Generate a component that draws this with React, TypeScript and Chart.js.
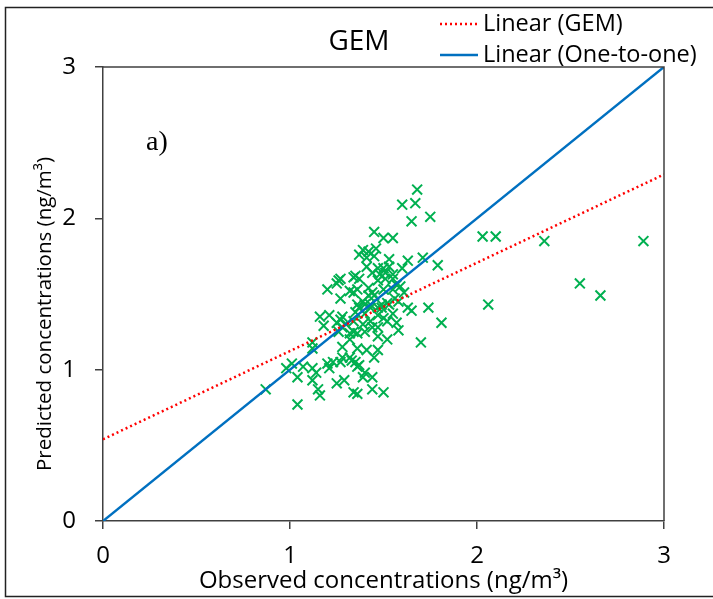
import React, { useEffect, useRef } from "react";
import { Chart, registerables } from "chart.js";

Chart.register(...registerables);

// ---- data ----
const observed = [
  1.68, 1.67, 1.60, 1.65, 1.75, 1.45, 1.50, 1.55, 1.39, 1.42, 1.46, 1.45, 1.37, 1.41, 1.53, 1.63, 1.71, 1.79,
  1.41, 1.47, 1.50, 1.53, 1.60, 1.35, 1.34, 1.37, 1.44, 1.48, 1.51, 1.55, 1.26, 1.20, 1.25, 1.27, 1.32, 1.36,
  1.42, 1.47, 1.51, 1.55, 1.57, 1.27, 1.42, 1.44, 1.50, 1.55, 1.59, 1.61, 1.36, 1.43, 1.49, 1.58, 1.39, 1.52,
  1.56, 1.34, 1.45, 1.63, 1.65, 1.74, 1.16, 1.21, 1.18, 1.25, 1.27, 1.28, 1.28, 1.30, 1.26, 1.32, 1.34, 1.36,
  1.37, 1.40, 1.43, 1.47, 1.49, 1.53, 1.35, 1.40, 1.47, 1.50, 1.55, 1.43, 1.47, 1.40, 1.44, 1.52, 1.57, 1.58,
  1.34, 1.39, 1.52, 1.47, 1.70, 1.81, 1.32, 1.36, 1.41, 1.47, 1.12, 1.12, 1.28, 1.28, 1.32, 1.35, 1.37, 1.45,
  1.33, 1.36, 1.01, 0.98, 1.07, 1.12, 1.14, 1.20, 1.21, 1.23, 1.27, 1.40, 1.44, 1.39, 1.04, 1.12, 1.25, 1.29,
  0.87, 1.15, 1.16, 1.34, 1.36, 1.44, 1.50, 1.04, 2.03, 2.10, 2.36, 2.89, 2.55, 2.66, 2.06,
];
const predicted = [
  2.19, 2.10, 2.09, 1.98, 2.01, 1.91, 1.87, 1.87, 1.79, 1.78, 1.80, 1.75, 1.76, 1.74, 1.73, 1.72, 1.74, 1.69,
  1.68, 1.67, 1.67, 1.68, 1.67, 1.62, 1.61, 1.60, 1.64, 1.63, 1.64, 1.63, 1.59, 1.53, 1.57, 1.60, 1.52, 1.53,
  1.54, 1.59, 1.60, 1.60, 1.56, 1.47, 1.49, 1.51, 1.53, 1.53, 1.55, 1.51, 1.43, 1.43, 1.43, 1.45, 1.45, 1.44,
  1.47, 1.51, 1.49, 1.41, 1.39, 1.41, 1.35, 1.36, 1.29, 1.31, 1.33, 1.35, 1.28, 1.30, 1.25, 1.24, 1.25, 1.24,
  1.41, 1.43, 1.41, 1.41, 1.41, 1.43, 1.38, 1.37, 1.36, 1.34, 1.37, 1.32, 1.28, 1.25, 1.28, 1.32, 1.31, 1.26,
  1.32, 1.30, 1.20, 1.22, 1.18, 1.31, 1.20, 1.14, 1.13, 1.13, 1.18, 1.14, 1.15, 1.08, 1.08, 1.05, 1.03, 1.08,
  1.06, 1.02, 1.04, 1.01, 1.02, 1.01, 0.98, 1.04, 1.01, 1.05, 1.05, 0.98, 0.95, 0.95, 0.95, 0.93, 0.91, 0.93,
  0.87, 0.87, 0.83, 0.85, 0.84, 0.87, 0.85, 0.77, 1.88, 1.88, 1.85, 1.85, 1.57, 1.49, 1.43,
];
const gemFitX = [0, 3];
const gemFitY = [0.54, 2.29];
const oneToOneX = [0, 3];
const oneToOneY = [0, 3];
const xTicks = [0, 1, 2, 3];
const yTicks = [0, 1, 2, 3];
const titleText = "GEM";
const legendLabels = ["Linear (GEM)", "Linear (One-to-one)"];
const panelLabel = "a)";
const xTitle = "Observed concentrations (ng/m\u00B3)";
const yTitle = "Predicted concentrations (ng/m\u00B3)";

const SANS = "'Open Sans', 'Noto Sans', sans-serif";
const AXIS_COLOR = "#404040";

const overlayPlugin = {
  id: "overlay",
  afterDraw(chart: any) {
    const { ctx, chartArea } = chart;
    ctx.save();
    // plot area top/right border
    ctx.strokeStyle = AXIS_COLOR;
    ctx.lineWidth = 1.5;
    ctx.beginPath();
    ctx.moveTo(chartArea.left, chartArea.top);
    ctx.lineTo(chartArea.right, chartArea.top);
    ctx.lineTo(chartArea.right, chartArea.bottom);
    ctx.stroke();

    // outer frame (left, top, bottom)
    ctx.strokeStyle = "#222";
    ctx.lineWidth = 1.5;
    ctx.beginPath();
    ctx.moveTo(chart.width, 7.5);
    ctx.lineTo(5.5, 7.5);
    ctx.lineTo(5.5, 596.5);
    ctx.lineTo(chart.width, 596.5);
    ctx.stroke();

    ctx.fillStyle = "#000";
    // chart title
    ctx.font = `28px ${SANS}`;
    ctx.textAlign = "center";
    ctx.textBaseline = "middle";
    ctx.fillText(titleText, 359, 42);

    // y axis title
    ctx.save();
    ctx.translate(45, 314);
    ctx.rotate(-Math.PI / 2);
    ctx.font = `20.5px ${SANS}`;
    ctx.fillText(yTitle, 0, 0);
    ctx.restore();

    // legend
    const ds = chart.data.datasets;
    const rows = [
      { d: ds[0], y: 24 },
      { d: ds[1], y: 55 },
    ];
    ctx.font = `23.5px ${SANS}`;
    ctx.textBaseline = "middle";
    ctx.textAlign = "left";
    rows.forEach((r) => {
      ctx.save();
      ctx.strokeStyle = r.d.borderColor;
      ctx.lineWidth = r.d.borderWidth;
      ctx.setLineDash(r.d.borderDash || []);
      ctx.beginPath();
      ctx.moveTo(440, r.y);
      ctx.lineTo(478, r.y);
      ctx.stroke();
      ctx.restore();
      ctx.fillText(r.d.label, 483, r.y);
    });

    // panel label
    ctx.font = "28px 'Liberation Serif', serif";
    ctx.textAlign = "left";
    ctx.fillText(panelLabel, 146, 143);
    ctx.restore();
  },
};

export default function App() {
  const ref = useRef<HTMLCanvasElement>(null);
  useEffect(() => {
    if (!ref.current) return;
    const tickFont = { family: SANS, size: 24 };
    const chart = new Chart(ref.current, {
      type: "scatter",
      data: {
        datasets: [
          {
            label: legendLabels[0],
            data: gemFitX.map((x, i) => ({ x, y: gemFitY[i] })),
            showLine: true,
            borderColor: "#FF0000",
            borderWidth: 2.5,
            borderDash: [2, 3],
            pointRadius: 0,
            order: 0,
          } as any,
          {
            label: legendLabels[1],
            data: oneToOneX.map((x, i) => ({ x, y: oneToOneY[i] })),
            showLine: true,
            borderColor: "#0070C0",
            borderWidth: 2.5,
            pointRadius: 0,
            order: 1,
          },
          {
            label: "GEM",
            data: observed.map((x, i) => ({ x, y: predicted[i] })),
            pointStyle: "crossRot",
            pointRadius: 7,
            borderColor: "#00B050",
            backgroundColor: "#00B050",
            pointBorderWidth: 2,
            order: 2,
          } as any,
        ],
      },
      options: {
        responsive: false,
        animation: false,
        layout: { padding: { left: 0, right: 49, top: 67, bottom: 0 } },
        plugins: {
          legend: { display: false },
          tooltip: { enabled: false },
          title: { display: false },
        },
        scales: {
          x: {
            type: "linear",
            min: 0,
            max: 3,
            afterBuildTicks: (s: any) => {
              s.ticks = xTicks.map((v) => ({ value: v }));
            },
            afterFit: (s: any) => {
              s.height = 78;
            },
            ticks: { color: "#000", font: tickFont, padding: 13 },
            grid: { drawOnChartArea: false, drawTicks: true, tickLength: 8, color: AXIS_COLOR, lineWidth: 1.5 },
            border: { display: true, color: AXIS_COLOR, width: 1.5 },
            title: {
              display: true,
              text: xTitle,
              color: "#000",
              font: { family: SANS, size: 24 },
              padding: { top: 0, bottom: 3 },
            },
          },
          y: {
            type: "linear",
            min: 0,
            max: 3,
            afterBuildTicks: (s: any) => {
              s.ticks = yTicks.map((v) => ({ value: v }));
            },
            afterFit: (s: any) => {
              s.width = 103;
            },
            ticks: { color: "#000", font: tickFont, padding: 19 },
            grid: { drawOnChartArea: false, drawTicks: true, tickLength: 8, color: AXIS_COLOR, lineWidth: 1.5 },
            border: { display: true, color: AXIS_COLOR, width: 1.5 },
            title: { display: false },
          },
        },
      },
      plugins: [overlayPlugin],
    });
    return () => chart.destroy();
  }, []);
  return (
    <div style={{ position: "fixed", left: 0, top: 0, width: 713, height: 599, background: "#fff" }}>
      <canvas ref={ref} width={713} height={599} />
    </div>
  );
}
